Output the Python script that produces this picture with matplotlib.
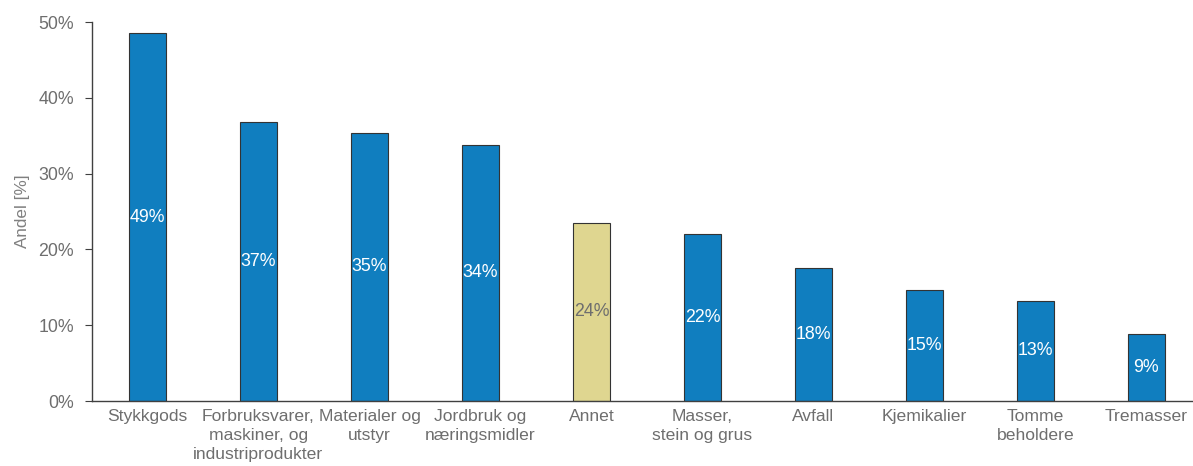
import numpy as np
import matplotlib.pyplot as plt

plt.rcParams['font.family'] = ['Liberation Sans', 'DejaVu Sans']

categories = ['Stykkgods', 'Forbruksvarer,\nmaskiner, og\nindustriprodukter',
              'Materialer og\nutstyr', 'Jordbruk og\nnæringsmidler', 'Annet',
              'Masser,\nstein og grus', 'Avfall', 'Kjemikalier',
              'Tomme\nbeholdere', 'Tremasser']
values = [48.5, 36.8, 35.4, 33.8, 23.5, 22.0, 17.5, 14.6, 13.2, 8.8]
labels = ['49%', '37%', '35%', '34%', '24%', '22%', '18%', '15%', '13%', '9%']

blue = '#107EBF'
yellow = '#DFD690'
grey = '#6E6E6E'

fig = plt.figure(figsize=(11.93, 4.66), dpi=100)
ax = fig.add_axes([92/1193, 65/466, 1 - 92/1193, 379/466])

x = np.arange(len(categories))
colors = [yellow if c == 'Annet' else blue for c in categories]
bars = ax.bar(x, values, width=0.34, color=colors, edgecolor='#333333', linewidth=0.8)

for b, v, l, c in zip(bars, values, labels, colors):
    tc = grey if c == yellow else 'white'
    ax.text(b.get_x() + b.get_width() / 2, v / 2, l, ha='center', va='center',
            color=tc, fontsize=12.8)

ax.set_xlim(-0.5, 9.42)
ax.set_ylim(0, 50)
ax.set_yticks(np.arange(0, 51, 10))
ax.set_yticklabels([f'{t}%' for t in range(0, 51, 10)])
ax.set_xticks(x)
ax.set_xticklabels(categories, linespacing=1.32)
ax.set_ylabel('Andel [%]', color='#808080', fontsize=12.3, labelpad=6)

for s in ['top', 'right']:
    ax.spines[s].set_visible(False)
for s in ['left', 'bottom']:
    ax.spines[s].set_color('#404040')
    ax.spines[s].set_linewidth(1.0)
ax.tick_params(axis='y', colors='#404040', labelcolor=grey, labelsize=12.8, length=5, pad=8)
ax.tick_params(axis='x', length=0, labelcolor=grey, labelsize=12.6, pad=6)

fig.savefig('out.png', dpi=100)
